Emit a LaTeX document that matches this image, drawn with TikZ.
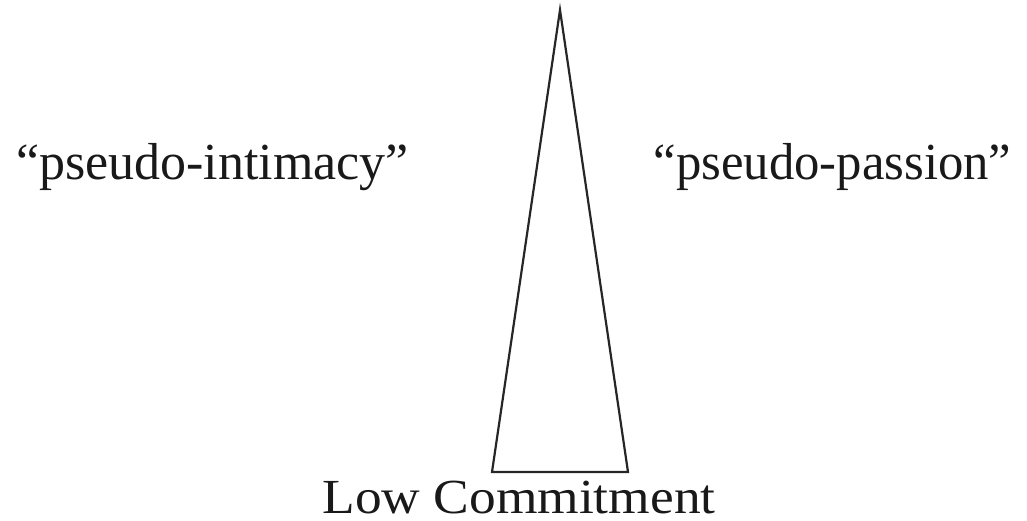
\documentclass[tikz,border=0pt]{standalone}
\usepackage{graphicx}
\usepackage{fontspec}
\setmainfont{Liberation Serif}
\begin{document}
\begin{tikzpicture}[x=1pt,y=-1pt,
  lbl/.style={inner sep=0pt,anchor=base,text=black!90},
  tri/.style={draw=black!85,line width=2.2pt,line join=miter}]
\useasboundingbox (0,0) rectangle (1027,521);
\coordinate (apex) at (560,10);
\coordinate (bl) at (492,472);
\coordinate (br) at (628,472);
\draw[tri] (apex) -- (br) -- (bl) -- cycle;
\node[lbl] (pi) at (212.5,180) {\fontsize{52}{58}\selectfont\scalebox{1.0}[1]{“pseudo-intimacy”}};
\node[lbl] (pp) at (832.5,180) {\fontsize{52}{58}\selectfont\scalebox{0.975}[1]{“pseudo-passion”}};
\node[lbl] (lc) at (519,513) {\fontsize{49}{55}\selectfont\scalebox{1.09}[1]{Low Commitment}};
\end{tikzpicture}
\end{document}
